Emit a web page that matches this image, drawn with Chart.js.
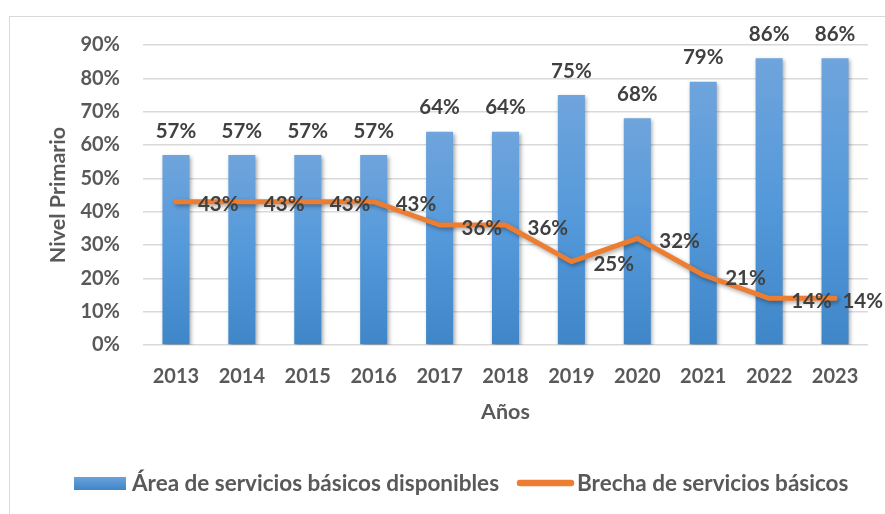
<!DOCTYPE html>
<html lang="es">
<head>
  <meta charset="UTF-8">
  <title>Nivel Primario - servicios básicos</title>
  <script src="https://cdn.jsdelivr.net/npm/chart.js"></script>
  <style>
    * { box-sizing: border-box; margin: 0; padding: 0; }
    body { background: #fff; }
    .chart-box { position: relative; width: 885px; height: 514px; }
  </style>
</head>
<body>
  <div class="chart-box">
    <canvas id="brechaChart"></canvas>
  </div>

  <script>
    const years = ['2013', '2014', '2015', '2016', '2017', '2018', '2019', '2020', '2021', '2022', '2023'];
    const disponibles = [0.57, 0.57, 0.57, 0.57, 0.64, 0.64, 0.75, 0.68, 0.79, 0.86, 0.86];
    const brecha = [0.43, 0.43, 0.43, 0.43, 0.36, 0.36, 0.25, 0.32, 0.21, 0.14, 0.14];
    const yTicks = [0, 0.1, 0.2, 0.3, 0.4, 0.5, 0.6, 0.7, 0.8, 0.9];
    const seriesNames = ['Área de servicios básicos disponibles', 'Brecha de servicios básicos'];

    const FONT = 'Lato, Calibri, sans-serif';
    const pct = v => Math.round(v * 100) + '%';

    function barGradient(c) {
      const chart = c.chart;
      const ys = chart.scales.y;
      if (!ys || c.type !== 'data') return '#5499DA';
      const top = ys.getPixelForValue(c.raw);
      const bot = ys.getPixelForValue(0);
      if (!isFinite(top) || !isFinite(bot) || top === bot) return '#5499DA';
      const g = chart.ctx.createLinearGradient(0, top, 0, bot);
      g.addColorStop(0, '#6FA4DC');
      g.addColorStop(0.5, '#5499DA');
      g.addColorStop(1, '#3F86C8');
      return g;
    }

    // soft shadow under bars and line, like the office chart
    const shadowPlugin = {
      id: 'shadow',
      beforeDatasetDraw(chart) {
        const ctx = chart.ctx;
        ctx.save();
        ctx.shadowColor = 'rgba(0,0,0,0.35)';
        ctx.shadowBlur = 4;
        ctx.shadowOffsetX = 1.5;
        ctx.shadowOffsetY = 2;
      },
      afterDatasetDraw(chart) {
        chart.ctx.restore();
      }
    };

    // value labels, frame and legend
    const labelPlugin = {
      id: 'labels',
      beforeDraw(chart) {
        const ctx = chart.ctx;
        ctx.save();
        ctx.strokeStyle = '#D9D9D9';
        ctx.lineWidth = 1;
        ctx.strokeRect(9.5, 16.5, 1000, 1000);
        ctx.restore();
      },
      afterDatasetsDraw(chart) {
        const ctx = chart.ctx;
        ctx.save();
        ctx.font = 'bold 20.5px ' + FONT;
        ctx.fillStyle = '#404040';

        const bars = chart.getDatasetMeta(0).data;
        ctx.textAlign = 'center';
        ctx.textBaseline = 'middle';
        bars.forEach((b, i) => {
          ctx.fillText(pct(disponibles[i]), b.x, b.y - 24);
        });

        // line labels sit to the right of the point, kept inside the frame
        const pts = chart.getDatasetMeta(1).data;
        ctx.textAlign = 'left';
        pts.forEach((p, i) => {
          const txt = pct(brecha[i]);
          const w = ctx.measureText(txt).width;
          const x = Math.min(p.x + 22, chart.width - 2 - w);
          ctx.fillText(txt, x, p.y + 3);
        });

        // legend
        ctx.font = 'bold 22.5px ' + FONT;
        const ly = 483;
        let x = 74;
        const g = ctx.createLinearGradient(0, ly - 7, 0, ly + 7);
        g.addColorStop(0, '#6FA4DC');
        g.addColorStop(1, '#3F86C8');
        ctx.fillStyle = g;
        ctx.fillRect(x, ly - 6, 52, 13);
        x += 58;
        ctx.fillStyle = '#595959';
        ctx.fillText(seriesNames[0], x, ly + 1);
        x += ctx.measureText(seriesNames[0]).width + 18;
        ctx.strokeStyle = '#ED7D31';
        ctx.lineWidth = 6.5;
        ctx.lineCap = 'round';
        ctx.beginPath();
        ctx.moveTo(x + 3, ly);
        ctx.lineTo(x + 54, ly);
        ctx.stroke();
        x += 60;
        ctx.fillText(seriesNames[1], x, ly + 1);
        ctx.restore();
      }
    };

    new Chart(document.getElementById('brechaChart'), {
      data: {
        labels: years,
        datasets: [
          {
            type: 'bar',
            label: seriesNames[0],
            data: disponibles,
            backgroundColor: barGradient,
            categoryPercentage: 1,
            barPercentage: 0.41,
            order: 2
          },
          {
            type: 'line',
            label: seriesNames[1],
            data: brecha,
            borderColor: '#ED7D31',
            borderWidth: 5,
            borderJoinStyle: 'round',
            borderCapStyle: 'round',
            pointRadius: 0,
            tension: 0,
            order: 1
          }
        ]
      },
      options: {
        responsive: true,
        maintainAspectRatio: false,
        animation: false,
        layout: { padding: { top: 45, right: 17, bottom: 69, left: 0 } },
        plugins: {
          legend: { display: false },
          tooltip: { enabled: false }
        },
        scales: {
          x: {
            grid: { display: false, drawTicks: false },
            border: { display: false },
            ticks: {
              color: '#595959',
              font: { family: FONT, size: 20, weight: 'bold' },
              padding: 20,
              maxRotation: 0
            },
            title: {
              display: true,
              text: 'Años',
              color: '#595959',
              font: { family: FONT, size: 21.5, weight: 'bold' },
              padding: { top: 0, bottom: 20 }
            },
            afterFit(scale) { scale.height = 100; }
          },
          y: {
            min: 0,
            max: 0.9,
            afterBuildTicks(scale) { scale.ticks = yTicks.map(v => ({ value: v })); },
            grid: { color: '#D9D9D9', lineWidth: 1.5, drawTicks: false },
            border: { display: false },
            ticks: {
              color: '#595959',
              font: { family: FONT, size: 20, weight: 'bold' },
              padding: 23,
              callback: v => pct(v)
            },
            title: {
              display: true,
              text: 'Nivel Primario',
              color: '#595959',
              font: { family: FONT, size: 21.5, weight: 'bold' },
              padding: { top: 45, bottom: 0 }
            },
            afterFit(scale) { scale.width = 143; }
          }
        }
      },
      plugins: [shadowPlugin, labelPlugin]
    });
  </script>
</body>
</html>
